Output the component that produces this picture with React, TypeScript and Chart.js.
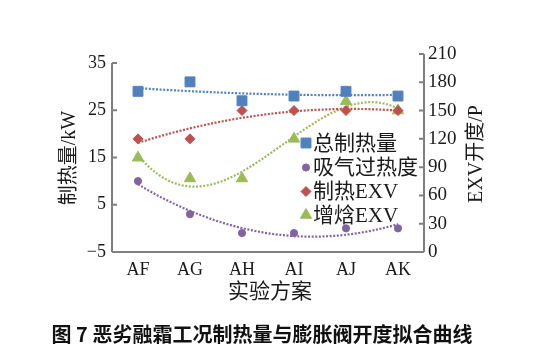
import React, { useEffect, useRef } from 'react';
import { Chart, registerables } from 'chart.js';
import { drawPoint } from 'chart.js/helpers';

Chart.register(...registerables);

const categories = ['AF', 'AG', 'AH', 'AI', 'AJ', 'AK'];
const totalHeat = [29, 31, 27, 28, 29, 28];
const superheat = [10, 3, -1, -1, 0, 0];
const heatingEXV = [120, 120, 150, 150, 150, 150];
const injectionEXV = [100, 78, 78, 120, 160, 150];
const leftTicks = [-5, 5, 15, 25, 35];
const rightTicks = [0, 30, 60, 90, 120, 150, 180, 210];
const seriesNames = ['总制热量', '吸气过热度', '制热EXV', '增焓EXV'];
const trendOrders = [2, 2, 2, 3];
const xTitle = '实验方案';
const yLeftTitle = '制热量/kW';
const yRightTitle = 'EXV开度/P';
const caption = '图 7 恶劣融霜工况制热量与膨胀阀开度拟合曲线';

const COLORS = ['#4F81BD', '#8064A2', '#C0504D', '#9BBB59'];
const STYLES = ['rect', 'circle', 'rectRot', 'triangle'];
const RADII = [7, 3.6, 5, 6.5];
const FONT = "'Liberation Serif', 'Noto Sans CJK SC', serif";

function polyfit(ys: number[], order: number): number[] {
  const n = order + 1;
  const A: number[][] = [];
  for (let r = 0; r < n; r++) {
    const row: number[] = [];
    for (let c = 0; c < n; c++) {
      let s = 0;
      ys.forEach((_, i) => (s += Math.pow(i, r + c)));
      row.push(s);
    }
    let b = 0;
    ys.forEach((y, i) => (b += y * Math.pow(i, r)));
    row.push(b);
    A.push(row);
  }
  for (let i = 0; i < n; i++) {
    let p = i;
    for (let k = i + 1; k < n; k++) if (Math.abs(A[k][i]) > Math.abs(A[p][i])) p = k;
    [A[i], A[p]] = [A[p], A[i]];
    for (let k = 0; k < n; k++) {
      if (k === i) continue;
      const f = A[k][i] / A[i][i];
      for (let c = i; c <= n; c++) A[k][c] -= f * A[i][c];
    }
  }
  return A.map((row, i) => row[n] / row[i]);
}

function trendPoints(ys: number[], order: number) {
  const coef = polyfit(ys, order);
  const pts: { x: number; y: number }[] = [];
  for (let x = 0; x <= ys.length - 1 + 1e-9; x += 0.05) {
    let y = 0;
    coef.forEach((c, k) => (y += c * Math.pow(x, k)));
    pts.push({ x, y });
  }
  return pts;
}

const decorPlugin = {
  id: 'decor',
  afterDraw(chart: any) {
    const { ctx, chartArea } = chart;
    const yL = chart.scales.yL;
    const yR = chart.scales.yR;
    ctx.save();
    ctx.strokeStyle = '#7f7f7f';
    ctx.lineWidth = 2;
    ctx.beginPath();
    ctx.moveTo(chartArea.left, yL.getPixelForValue(leftTicks[leftTicks.length - 1]));
    ctx.lineTo(chartArea.left, yL.getPixelForValue(leftTicks[0]));
    leftTicks.forEach((v) => {
      const y = yL.getPixelForValue(v);
      ctx.moveTo(chartArea.left, y);
      ctx.lineTo(chartArea.left + 5, y);
    });
    ctx.moveTo(chartArea.right, yR.getPixelForValue(rightTicks[rightTicks.length - 1]));
    ctx.lineTo(chartArea.right, yR.getPixelForValue(rightTicks[0]));
    rightTicks.forEach((v) => {
      const y = yR.getPixelForValue(v);
      ctx.moveTo(chartArea.right, y);
      ctx.lineTo(chartArea.right - 5, y);
    });
    ctx.moveTo(chartArea.left, chartArea.bottom);
    ctx.lineTo(chartArea.right, chartArea.bottom);
    ctx.stroke();

    ctx.fillStyle = '#1a1a1a';
    ctx.textBaseline = 'middle';
    ctx.textAlign = 'center';
    ctx.font = `20px ${FONT}`;
    ctx.save();
    ctx.translate(70, 158);
    ctx.rotate(-Math.PI / 2);
    ctx.fillText(yLeftTitle, 0, 0);
    ctx.restore();
    ctx.save();
    ctx.translate(477, 154);
    ctx.rotate(-Math.PI / 2);
    ctx.fillText(yRightTitle, 0, 0);
    ctx.restore();
    ctx.font = `21px ${FONT}`;
    ctx.fillText(xTitle, 270, 292);

    const rows = [143, 167.5, 191.5, 215];
    ctx.textAlign = 'left';
    ctx.font = `21px ${FONT}`;
    seriesNames.forEach((name, i) => {
      ctx.fillStyle = COLORS[i];
      ctx.strokeStyle = COLORS[i];
      ctx.lineWidth = 1;
      drawPoint(ctx, { pointStyle: STYLES[i], radius: RADII[i], rotation: 0, borderWidth: 1 } as any, 306, rows[i]);
      ctx.fillStyle = '#1a1a1a';
      ctx.fillText(name, 313, rows[i] + 1);
    });
    ctx.restore();
  },
};

const minus = (v: any) => String(v).replace('-', '\u2212');

export default function App() {
  const ref = useRef<HTMLCanvasElement>(null);
  useEffect(() => {
    if (!ref.current) return;
    const series = [totalHeat, superheat, heatingEXV, injectionEXV];
    const axes = ['yL', 'yL', 'yR', 'yR'];
    const markerSets = series.map((data, i) => ({
      type: 'line' as const,
      label: seriesNames[i],
      data,
      xAxisID: 'x',
      yAxisID: axes[i],
      showLine: false,
      pointStyle: STYLES[i],
      pointRadius: RADII[i],
      pointBackgroundColor: COLORS[i],
      pointBorderColor: COLORS[i],
      pointBorderWidth: 1,
      backgroundColor: COLORS[i],
      borderColor: COLORS[i],
    }));
    const trendSets = series.map((data, i) => ({
      type: 'line' as const,
      label: seriesNames[i] + ' trend',
      data: trendPoints(data, trendOrders[i]),
      xAxisID: 'xt',
      yAxisID: axes[i],
      borderColor: COLORS[i],
      borderWidth: 2.2,
      borderDash: [2, 1.6],
      pointRadius: 0,
      fill: false,
      tension: 0,
    }));
    const chart = new Chart(ref.current, {
      type: 'line',
      data: { labels: categories, datasets: [...markerSets, ...trendSets] as any },
      options: {
        responsive: false,
        animation: false,
        layout: { padding: { top: 54, left: 0, right: 0, bottom: 0 } },
        plugins: { legend: { display: false }, tooltip: { enabled: false } },
        scales: {
          x: {
            type: 'category',
            offset: true,
            grid: { display: false, drawTicks: false },
            border: { display: false },
            ticks: { font: { family: FONT, size: 18 }, color: '#1a1a1a', padding: 7 },
            afterFit: (s: any) => { s.height = 100; },
          },
          xt: { type: 'linear', min: -0.5, max: 5.5, display: false },
          yL: {
            type: 'linear',
            position: 'left',
            min: -5,
            max: 36.9,
            afterBuildTicks: (s: any) => { s.ticks = leftTicks.map((v) => ({ value: v })); },
            grid: { display: false, drawTicks: false },
            border: { display: false },
            ticks: { font: { family: FONT, size: 18 }, color: '#1a1a1a', padding: 6, callback: minus },
            afterFit: (s: any) => { s.width = 112; },
          },
          yR: {
            type: 'linear',
            position: 'right',
            min: 0,
            max: 210,
            afterBuildTicks: (s: any) => { s.ticks = rightTicks.map((v) => ({ value: v })); },
            grid: { display: false, drawTicks: false },
            border: { display: false },
            ticks: { font: { family: FONT, size: 19 }, color: '#1a1a1a', padding: 4 },
            afterFit: (s: any) => { s.width = 123; },
          },
        },
      } as any,
      plugins: [decorPlugin],
    });
    return () => chart.destroy();
  }, []);
  return (
    <div style={{ position: 'fixed', left: 0, top: 0, width: 547, height: 352, background: '#fff' }}>
      <canvas ref={ref} width={547} height={352} style={{ display: 'block' }} />
      <div
        style={{
          position: 'absolute',
          left: 262,
          top: 323,
          transform: 'translateX(-50%)',
          whiteSpace: 'nowrap',
          fontFamily: "'Noto Sans CJK SC', sans-serif",
          fontWeight: 700,
          fontSize: 20,
          lineHeight: '22px',
          color: '#111',
        }}
      >
        {caption}
      </div>
    </div>
  );
}
